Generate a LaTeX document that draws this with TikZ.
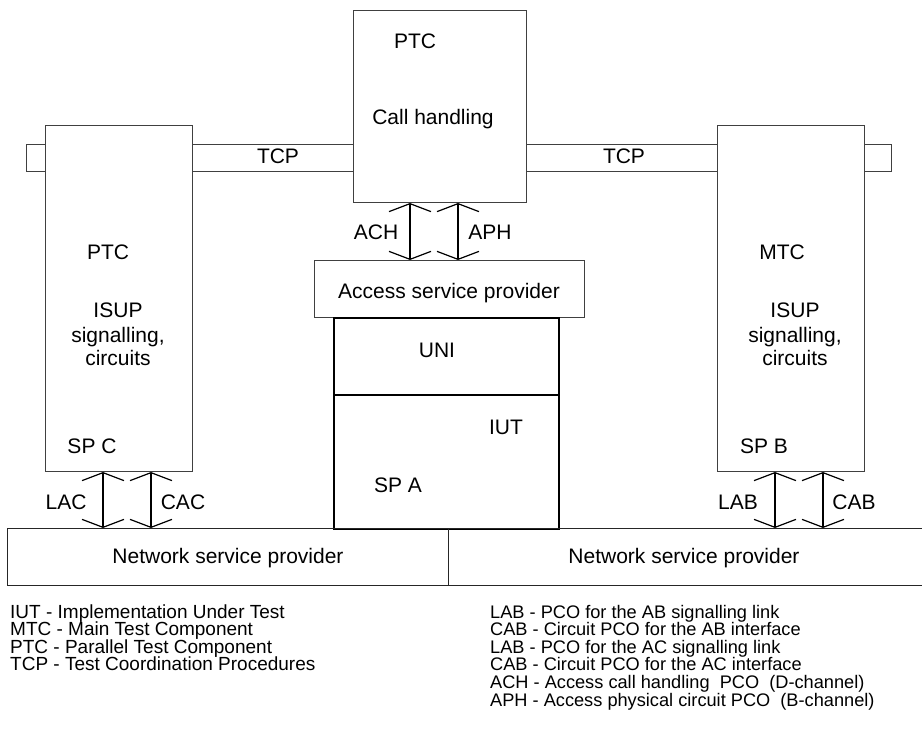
\documentclass[tikz,border=0pt]{standalone}
\usepackage{fontspec}
\setmainfont{Liberation Sans}
\usetikzlibrary{arrows.meta}
\tikzset{
  thinbox/.style={draw=black!75, line width=1pt, fill=white, inner sep=0pt, anchor=north west},
  thickbox/.style={draw=black, line width=2.4pt, inner sep=0pt, anchor=north west},
  nspbox/.style={draw=black!85, line width=1pt, inner sep=0pt, anchor=north west},
  lbl/.style={inner sep=0pt, anchor=base, font=\fontsize{21}{25}\selectfont},
  lgdl/.style={inner sep=0pt, anchor=base west, font=\fontsize{19}{21}\selectfont},
  lgdr/.style={inner sep=0pt, anchor=base west, font=\fontsize{18.2}{21}\selectfont},
  pco/.style={line width=1.2pt, {Straight Barb[length=8pt,width=42pt]}-{Straight Barb[length=8pt,width=42pt]}}
}
\begin{document}
\begin{tikzpicture}[x=1pt,y=-1pt]
\useasboundingbox (0,0) rectangle (922,738);
% TCP bars (behind the boxes)
\node[thinbox, minimum width=327pt, minimum height=27pt] (tcpL) at (26,144) {};
\node[thinbox, minimum width=365pt, minimum height=27pt] (tcpR) at (526,144) {};
% boxes
\node[thinbox, minimum width=173pt, minimum height=192pt] (ptcTop) at (353,10) {};
\node[thinbox, minimum width=147pt, minimum height=346pt] (ptcL) at (45,125) {};
\node[thinbox, minimum width=147pt, minimum height=346pt] (mtc) at (717,125) {};
\node[thinbox, minimum width=270pt, minimum height=57pt] (access) at (314,260) {};
\node[thickbox, minimum width=225pt, minimum height=77pt] (uni) at (333,317) {};
\node[thickbox, minimum width=225pt, minimum height=134pt] (iut) at (333,394) {};
\node[nspbox, minimum width=441pt, minimum height=57pt] (nspL) at (7,528) {};
\node[nspbox, minimum width=490pt, minimum height=57pt] (nspR) at (448,528) {};
% labels in boxes
\node[lbl] (tPTC) at (415,49) {PTC};
\node[lbl] (tCall) at (433,125) {Call handling};
\node[lbl] (tTCP1) at (278,164) {TCP};
\node[lbl] (tTCP2) at (624,164) {TCP};
\node[lbl] (lPTC) at (108,260) {PTC};
\node[lbl] (lISUP) at (118,318) {ISUP};
\node[lbl] (lSig) at (118,342) {signalling,};
\node[lbl] (lCirc) at (118,366) {circuits};
\node[lbl] (lSPC) at (92,453) {SP C};
\node[lbl] (rMTC) at (782,260) {MTC};
\node[lbl] (rISUP) at (795,318) {ISUP};
\node[lbl] (rSig) at (795,342) {signalling,};
\node[lbl] (rCirc) at (795,366) {circuits};
\node[lbl] (rSPB) at (764,453) {SP B};
\node[lbl] (tAcc) at (449,299) {Access service provider};
\node[lbl] (tUNI) at (437,358) {UNI};
\node[lbl] (tIUT) at (506,434) {IUT};
\node[lbl] (tSPA) at (398,492) {SP A};
\node[lbl] (tNSP1) at (228,563) {Network service provider};
\node[lbl] (tNSP2) at (684,563) {Network service provider};
% PCO arrows
\coordinate (achx) at (410,0);
\coordinate (aphx) at (458,0);
\coordinate (lacx) at (103,0);
\coordinate (cacx) at (151,0);
\coordinate (labx) at (775,0);
\coordinate (cabx) at (823,0);
\draw[pco] (achx |- ptcTop.south) -- (achx |- access.north);
\draw[pco] (aphx |- ptcTop.south) -- (aphx |- access.north);
\draw[pco] (lacx |- ptcL.south) -- (lacx |- nspL.north);
\draw[pco] (cacx |- ptcL.south) -- (cacx |- nspL.north);
\draw[pco] (labx |- mtc.south) -- (labx |- nspR.north);
\draw[pco] (cabx |- mtc.south) -- (cabx |- nspR.north);
\node[lbl] (tACH) at (376,240) {ACH};
\node[lbl] (tAPH) at (490,240) {APH};
\node[lbl] (tLAC) at (66,509) {LAC};
\node[lbl] (tCAC) at (183,509) {CAC};
\node[lbl] (tLAB) at (738,509) {LAB};
\node[lbl] (tCAB) at (854,509) {CAB};
% legend
\node[lgdl] (g1) at (10,618) {IUT - Implementation Under Test};
\node[lgdl] (g2) at (10,635.6) {MTC - Main Test Component};
\node[lgdl] (g3) at (10,653.2) {PTC - Parallel Test Component};
\node[lgdl] (g4) at (10,670.8) {TCP - Test Coordination Procedures};
\node[lgdr] (h1) at (490,618) {LAB - PCO for the AB signalling link};
\node[lgdr] (h2) at (490,635.6) {CAB - Circuit PCO for the AB interface};
\node[lgdr] (h3) at (490,653.2) {LAB - PCO for the AC signalling link};
\node[lgdr] (h4) at (490,670.8) {CAB - Circuit PCO for the AC interface};
\node[lgdr] (h5) at (490,688.4) {ACH - Access call handling\ \ PCO\ \ (D-channel)};
\node[lgdr] (h6) at (490,706) {APH - Access physical circuit PCO\ \ (B-channel)};
\end{tikzpicture}
\end{document}
